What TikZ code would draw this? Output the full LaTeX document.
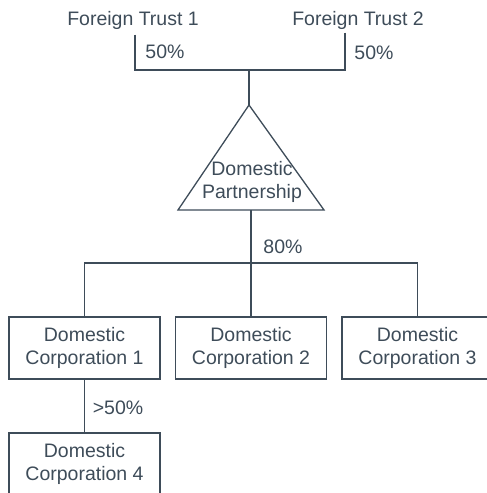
\documentclass[tikz,border=0pt]{standalone}
\usepackage{fontspec}
\setmainfont{Liberation Sans}
\usetikzlibrary{calc}
\definecolor{ink}{HTML}{3E4C59}
\begin{document}
\begin{tikzpicture}[x=1pt,y=-1pt,line width=1.3pt,color=ink,
  lbl/.style={text=ink,inner sep=0pt,font=\fontsize{19.5}{23.5}\selectfont,align=center},
  corp/.style={lbl,draw=ink,minimum width=151pt,minimum height=62pt}]
\useasboundingbox (0,0) rectangle (487,493);
% top owners
\node[lbl] (ft1) at (133,20) {Foreign Trust 1};
\node[lbl] (ft2) at (358,20) {Foreign Trust 2};
\coordinate (j1) at (249,70);
\coordinate (apex) at (249,105);
\coordinate (bl) at (178,210);
\coordinate (br) at (324,210);
\coordinate (bm) at (251,210);
\draw (apex) -- (bl) -- (br) -- cycle;
\node[lbl] (dp) at (252,182) {Domestic\\Partnership};
\draw ($(ft1.south)+(2,5)$) |- (j1);
\draw ($(ft2.south)+(-13,3)$) |- (j1);
\draw (j1) -- (apex);
\node[lbl] (p1) at (165,52) {50\%};
\node[lbl] (p2) at (374,53) {50\%};
% corporations
\node[corp] (c1) at (84.5,348) {Domestic\\Corporation 1};
\node[corp] (c2) at (251,348) {Domestic\\Corporation 2};
\node[corp] (c3) at (417.5,348) {Domestic\\Corporation 3};
\node[corp] (c4) at (84.5,464) {Domestic\\Corporation 4};
\coordinate (j2) at (251,263);
\draw (bm) -- (j2);
\draw (c1.north) |- (j2) -| (c3.north);
\draw (j2) -- (c2.north);
\draw (c1.south) -- (c4.north);
\node[lbl] (p3) at (283,247) {80\%};
\node[lbl] (p4) at (118,408) {>50\%};
\end{tikzpicture}
\end{document}
